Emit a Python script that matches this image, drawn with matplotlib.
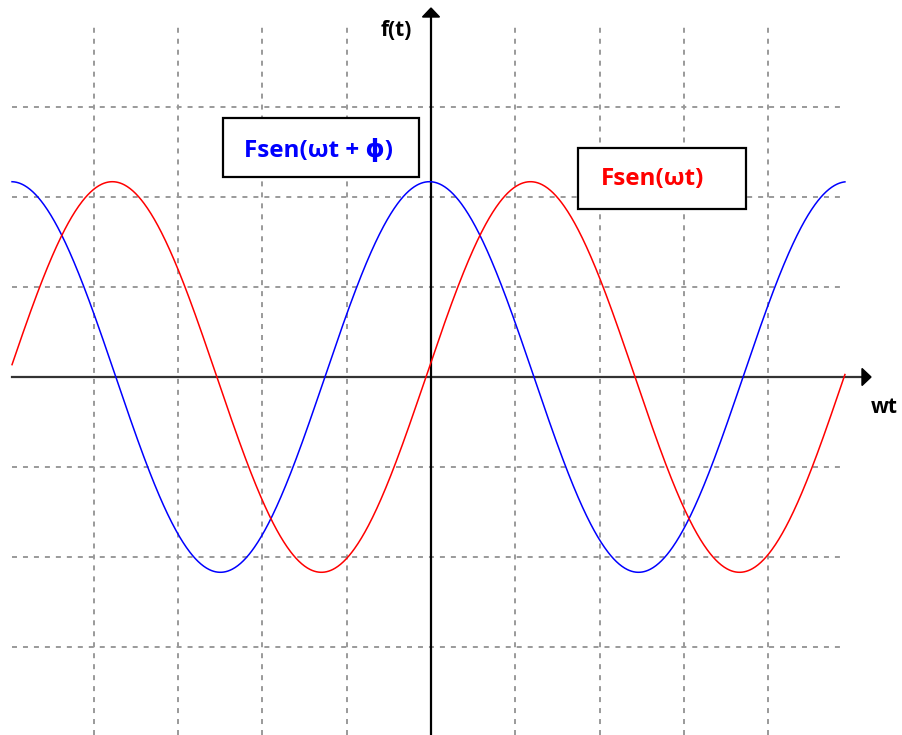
import numpy as np
import matplotlib
matplotlib.use('Agg')
import matplotlib.pyplot as plt
from matplotlib.patches import Rectangle, Polygon

plt.rcParams['lines.scale_dashes'] = False

# ---- chart values (grid units) ----
grid_x = [-4, -3, -2, -1, 1, 2, 3, 4]
grid_y = [-3, -2, -1, 1, 2, 3]
amplitude = 2.17          # F
period = 4.96             # 2*pi/omega
red_zero = -0.06          # rising zero crossing of Fsen(wt)
phi_deg = 87.0            # phase of the blue curve
t_start, t_end = -4.97, 4.91
label_blue = "Fsen(ωt + ϕ)"
label_red = "Fsen(ωt)"
label_y = "f(t)"
label_x = "wt"

# ---- pixel layout ----
W, H, DPI = 902, 735, 100
ox, oy = 431.0, 377.0
gx, gy = 84.3, 90.0

def px(x, y):
    return (x - ox) / gx, (oy - y) / gy

fig = plt.figure(figsize=(W / DPI, H / DPI), dpi=DPI)
ax = fig.add_axes([0, 0, 1, 1])
ax.set_xlim(-ox / gx, (W - ox) / gx)
ax.set_ylim((oy - H) / gy, oy / gy)
ax.axis('off')

grid_kw = dict(color='#9a9a9a', lw=1.4, dashes=(3.6, 4.3), zorder=1)
y_bot = px(0, H)[1]
y_top = px(0, 22)[1]
for gxv in grid_x:
    ax.plot([gxv, gxv], [y_bot, y_top], **grid_kw)
for gyv in grid_y:
    ax.plot([t_start, t_end], [gyv, gyv], **grid_kw)

# axes with arrows
xb = px(862, 0)[0]; xt = px(871, 0)[0]
ax.plot([t_start, xb], [0, 0], color='#333333', lw=1.6, zorder=3)
hh = 8.5 / gy
ax.add_patch(Polygon([[xb, hh], [xt, 0], [xb, -hh]], closed=True,
                     color='black', zorder=3))
yb = px(0, 17)[1]; yt = px(0, 8)[1]
ax.plot([0, 0], [y_bot, yb], color='black', lw=1.6, zorder=3)
hw = 8.5 / gx
ax.add_patch(Polygon([[-hw, yb], [0, yt], [hw, yb]], closed=True,
                     color='black', zorder=3))

# curves
omega = 2 * np.pi / period
t = np.linspace(t_start, t_end, 1200)
red = amplitude * np.sin(omega * (t - red_zero))
blue = amplitude * np.sin(omega * (t - red_zero) + np.deg2rad(phi_deg))
ax.plot(t, blue, color='#0000ff', lw=1.1, zorder=4)
ax.plot(t, red, color='#ff0000', lw=1.1, zorder=4)

fam = ['Open Sans', 'DejaVu Sans']

# boxes
def box(x0, y0, x1, y1):
    a = px(x0, y1); b = px(x1, y0)
    ax.add_patch(Rectangle(a, b[0] - a[0], b[1] - a[1], facecolor='white',
                           edgecolor='black', lw=1.6, zorder=5))

box(223, 118, 419, 177)
box(578, 148, 746, 209)
ax.text(*px(319, 151), label_blue, color='#0000ff', fontsize=17.5,
        fontweight='bold', family=fam, ha='center', va='center', zorder=6)
ax.text(*px(653, 179), label_red, color='#ff0000', fontsize=17.5,
        fontweight='bold', family=fam, ha='center', va='center', zorder=6)

ax.text(*px(396, 30), label_y, color='black', fontsize=15,
        fontweight='bold', family=fam, ha='center', va='center', zorder=6)
ax.text(*px(884, 407), label_x, color='black', fontsize=15,
        fontweight='bold', family=fam, ha='center', va='center', zorder=6)

fig.savefig('out.png', dpi=DPI, facecolor='white')
